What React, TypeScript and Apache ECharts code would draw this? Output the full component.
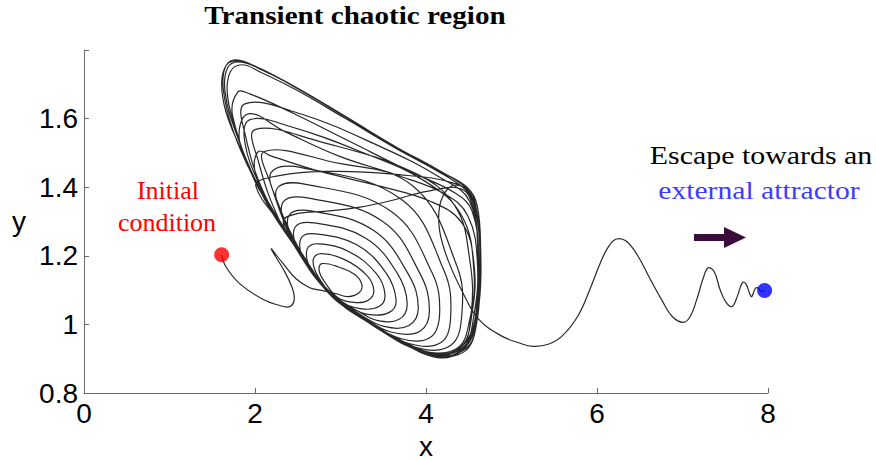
import React, { useEffect, useRef } from "react";
import * as echarts from "echarts";

// ---- data (x, y) ----
const xTicks = [0, 2, 4, 6, 8];
const yTicks = [0.8, 1, 1.2, 1.4, 1.6, 1.8];

const initialCondition = [1.61, 1.203];
const externalAttractor = [7.96, 1.099];

const transientPath = [
  [1.66, 1.168], [1.82, 1.119], [2.08, 1.075], [2.29, 1.055], [2.41, 1.052],
  [2.46, 1.075], [2.43, 1.11], [2.34, 1.157], [2.19, 1.22], [2.32, 1.18],
  [2.48, 1.133], [2.64, 1.107], [2.78, 1.099],
];

const innerLoops = [
  [[2.94, 1.09], [3.09, 1.081], [3.22, 1.093], [3.25, 1.116], [3.17, 1.145], [2.97, 1.168], [2.78, 1.177], [2.75, 1.157], [2.82, 1.122]],
  [[2.97, 1.078], [3.16, 1.064], [3.32, 1.07], [3.39, 1.099], [3.3, 1.145], [3.03, 1.191], [2.76, 1.206], [2.68, 1.188], [2.74, 1.139]],
  [[2.97, 1.072], [3.23, 1.046], [3.45, 1.052], [3.52, 1.087], [3.42, 1.148], [3.1, 1.212], [2.74, 1.235], [2.61, 1.22], [2.65, 1.162]],
  [[2.88, 1.093], [3.09, 1.055], [3.32, 1.029], [3.57, 1.035], [3.65, 1.072], [3.53, 1.151], [3.19, 1.232], [2.71, 1.264], [2.54, 1.252], [2.56, 1.194]],
  [[2.76, 1.125], [2.99, 1.07], [3.23, 1.035], [3.42, 1.012], [3.68, 1.014], [3.78, 1.061], [3.66, 1.151], [3.29, 1.252], [2.69, 1.296], [2.47, 1.284], [2.49, 1.223]],
  [[2.7, 1.142], [2.94, 1.081], [3.23, 1.029], [3.51, 0.994], [3.8, 0.997], [3.91, 1.049], [3.79, 1.148], [3.38, 1.275], [2.67, 1.33], [2.4, 1.319], [2.43, 1.249]],
  [[2.67, 1.154], [2.92, 1.081], [3.25, 1.023], [3.6, 0.977], [3.93, 0.98], [4.04, 1.041], [3.93, 1.148], [3.49, 1.301], [2.63, 1.368], [2.33, 1.357], [2.37, 1.278]],
  [[2.63, 1.168], [2.92, 1.078], [3.27, 1.017], [3.7, 0.959], [4.05, 0.962], [4.16, 1.035], [4.07, 1.151], [3.59, 1.33], [2.58, 1.409], [2.26, 1.397], [2.32, 1.319]],
  [[2.6, 1.183], [2.91, 1.078], [3.3, 1.014], [3.79, 0.945], [4.18, 0.948], [4.29, 1.032], [4.21, 1.157], [3.71, 1.365], [2.53, 1.458], [2.19, 1.443], [2.26, 1.359]],
];

const outerLoops = [
  [[2.53, 1.214], [2.88, 1.087], [3.33, 1.009], [3.88, 0.933], [4.29, 0.939], [4.42, 1.032], [4.36, 1.171], [3.85, 1.403], [2.88, 1.475], [2.11, 1.504], [2.18, 1.412]],
  [[2.48, 1.226], [2.88, 1.087], [3.39, 0.997], [3.98, 0.922], [4.4, 0.93], [4.53, 1.035], [4.51, 1.191], [4.34, 1.345], [3.87, 1.441], [2.76, 1.533], [2.0, 1.568], [2.04, 1.475]],
  [[2.29, 1.301], [2.53, 1.214], [2.88, 1.087], [3.46, 0.988], [4.05, 0.913], [4.47, 0.925], [4.6, 1.041], [4.61, 1.2], [4.51, 1.359], [4.16, 1.429], [3.46, 1.519], [2.53, 1.614], [1.88, 1.643], [1.89, 1.548]],
  [[2.12, 1.374], [2.47, 1.229], [2.84, 1.099], [3.37, 1.0], [3.99, 0.919], [4.42, 0.93], [4.56, 1.026], [4.6, 1.186], [4.49, 1.316], [4.22, 1.38], [3.7, 1.432], [2.99, 1.49], [2.35, 1.562], [1.92, 1.614], [1.82, 1.533]],
  [[2.08, 1.388], [2.47, 1.229], [2.84, 1.099], [3.31, 1.009], [3.7, 0.951], [4.12, 0.904], [4.39, 0.919], [4.55, 0.977], [4.63, 1.084], [4.64, 1.214], [4.6, 1.345], [4.49, 1.397], [4.16, 1.446], [3.7, 1.51], [3.11, 1.597], [2.53, 1.684], [2.08, 1.742], [1.82, 1.765], [1.68, 1.748], [1.65, 1.678], [1.78, 1.557]],
  [[2.07, 1.388], [2.46, 1.232], [2.84, 1.099], [3.32, 1.006], [3.72, 0.948], [4.14, 0.904], [4.41, 0.922], [4.57, 0.983], [4.63, 1.099], [4.63, 1.229], [4.57, 1.345], [4.47, 1.391], [4.12, 1.449], [3.65, 1.513], [3.06, 1.6], [2.48, 1.684], [2.06, 1.736], [1.85, 1.757], [1.71, 1.736], [1.68, 1.664], [1.8, 1.548]],
  [[2.0, 1.417], [2.23, 1.325], [2.84, 1.099], [3.35, 1.006], [4.05, 0.913], [4.46, 0.928], [4.6, 1.017], [4.62, 1.186], [4.54, 1.33], [4.34, 1.383], [3.81, 1.446], [3.11, 1.533], [2.41, 1.62], [1.94, 1.672], [1.8, 1.678], [1.74, 1.606]],
  [[2.08, 1.38], [2.47, 1.226], [2.85, 1.096], [3.32, 1.009], [3.73, 0.951], [4.13, 0.91], [4.37, 0.925], [4.54, 0.983], [4.6, 1.084], [4.61, 1.214], [4.56, 1.33], [4.42, 1.394], [4.01, 1.388], [3.61, 1.362], [3.23, 1.342], [2.84, 1.33], [2.48, 1.322], [2.33, 1.301]],
  [[2.48, 1.226], [2.85, 1.096], [3.33, 1.006], [3.74, 0.948], [4.14, 0.907], [4.4, 0.922], [4.56, 0.98], [4.62, 1.093], [4.63, 1.22], [4.56, 1.359], [4.36, 1.409], [3.61, 1.438], [2.84, 1.446], [2.18, 1.429], [2.01, 1.403]],
  [[2.35, 1.278], [2.84, 1.099], [3.4, 0.994], [3.99, 0.919], [4.4, 0.933], [4.54, 1.035], [4.56, 1.18], [4.42, 1.296], [4.05, 1.359], [3.46, 1.403], [2.76, 1.446], [2.2, 1.49], [2.04, 1.504], [2.0, 1.446]],
  [[2.2, 1.33], [2.48, 1.226], [2.85, 1.096], [3.32, 1.006], [3.71, 0.948], [4.12, 0.904], [4.39, 0.919], [4.55, 0.977], [4.62, 1.087], [4.63, 1.22], [4.58, 1.348], [4.48, 1.4], [4.14, 1.449], [3.67, 1.513], [3.09, 1.6], [2.5, 1.687], [2.07, 1.745], [1.8, 1.768], [1.66, 1.754], [1.63, 1.684], [1.74, 1.568], [1.96, 1.441]],
  [[2.41, 1.249], [2.84, 1.099], [3.37, 1.003], [3.93, 0.925], [4.36, 0.93], [4.51, 1.012], [4.56, 1.157], [4.42, 1.316], [3.99, 1.417], [3.23, 1.504], [2.41, 1.577], [1.94, 1.597], [1.88, 1.533], [2.06, 1.403]],
  [[2.35, 1.278], [2.64, 1.171], [2.85, 1.099], [3.31, 1.009], [3.72, 0.948], [4.13, 0.904], [4.4, 0.919], [4.56, 0.98], [4.62, 1.093], [4.63, 1.226], [4.57, 1.348], [4.47, 1.397], [4.13, 1.452], [3.66, 1.516], [3.08, 1.603], [2.49, 1.69], [2.04, 1.748], [1.78, 1.771], [1.66, 1.754], [1.61, 1.701], [1.66, 1.62], [1.82, 1.519], [2.08, 1.38]],
  [[2.48, 1.226], [2.85, 1.096], [3.35, 1.003], [3.75, 0.945], [4.15, 0.907], [4.41, 0.925], [4.56, 0.988], [4.61, 1.093], [4.61, 1.229], [4.56, 1.345], [4.48, 1.388], [4.37, 1.406], [4.25, 1.394], [4.16, 1.345], [4.16, 1.272], [4.26, 1.186], [4.43, 1.093], [4.61, 1.017]],
];

const escapePath = [
  [4.87, 0.968], [5.1, 0.945], [5.25, 0.936], [5.43, 0.942], [5.6, 0.968], [5.78, 1.026],
  [5.92, 1.104], [6.04, 1.18], [6.14, 1.229], [6.23, 1.249], [6.34, 1.243], [6.47, 1.203],
  [6.62, 1.133], [6.76, 1.07], [6.88, 1.023], [7.01, 1.006], [7.09, 1.023], [7.17, 1.075],
  [7.24, 1.133], [7.3, 1.165], [7.37, 1.154], [7.44, 1.101], [7.51, 1.064], [7.58, 1.052],
  [7.64, 1.081], [7.7, 1.122], [7.74, 1.119], [7.79, 1.087], [7.81, 1.081], [7.85, 1.104],
  [7.88, 1.107], [7.92, 1.096], [7.96, 1.099],
];

const SERIF = "'Liberation Serif', 'Times New Roman', serif";
const SANS = "'Liberation Sans', Arial, sans-serif";

export default function App() {
  const ref = useRef<HTMLDivElement>(null);

  useEffect(() => {
    if (!ref.current) return;
    const chart = echarts.init(ref.current, null, { renderer: "svg", width: 876, height: 460 });
    const trajectory = [
      initialCondition,
      ...transientPath,
      ...innerLoops.flat(),
      ...outerLoops.flat(),
      ...escapePath,
    ];
    const axisColor = "#6a6a6a";
    chart.setOption({
      animation: false,
      backgroundColor: "#ffffff",
      grid: { left: 84, right: 108, top: 50, bottom: 67, containLabel: false, outerBoundsMode: "none" },
      xAxis: {
        type: "value",
        min: xTicks[0],
        max: xTicks[xTicks.length - 1],
        interval: 2,
        name: "x",
        nameLocation: "middle",
        nameGap: 42,
        nameTextStyle: { fontFamily: SANS, fontSize: 28, lineHeight: 22, color: "#000" },
        axisLine: { show: true, lineStyle: { color: axisColor, width: 1 } },
        axisTick: { show: true, inside: true, length: 5, lineStyle: { color: axisColor } },
        axisLabel: { fontFamily: SANS, fontSize: 28, color: "#000", margin: 6, showMinLabel: true, showMaxLabel: true },
        splitLine: { show: false },
      },
      yAxis: {
        type: "value",
        min: yTicks[0],
        max: yTicks[yTicks.length - 1],
        interval: 0.2,
        name: "y",
        nameLocation: "middle",
        nameRotate: 0,
        nameGap: 58,
        nameTextStyle: { fontFamily: SANS, fontSize: 28, color: "#000" },
        axisLine: { show: true, lineStyle: { color: axisColor, width: 1 } },
        axisTick: { show: true, inside: true, length: 5, lineStyle: { color: axisColor } },
        axisLabel: {
          fontFamily: SANS,
          fontSize: 28,
          color: "#000",
          margin: 6,
          showMinLabel: true,
          showMaxLabel: true,
          formatter: (v: number) => (v > 1.75 ? "" : String(Math.round(v * 10) / 10)),
        },
        splitLine: { show: false },
      },
      series: [
        {
          type: "custom",
          name: "trajectory",
          coordinateSystem: "cartesian2d",
          data: trajectory,
          encode: { x: 0, y: 1 },
          silent: true,
          z: 2,
          renderItem: (params: any, api: any) => {
            if (params.dataIndex !== 0) return null;
            const pts = trajectory.map((p) => api.coord(p));
            return {
              type: "polyline",
              shape: { points: pts, smooth: 0.4 },
              style: { stroke: "#111111", lineWidth: 1.2, fill: null, opacity: 0.9 },
            };
          },
        },
        {
          type: "scatter",
          data: [initialCondition],
          symbolSize: 15,
          itemStyle: { color: "#ff0000" },
          silent: true,
          z: 3,
        },
        {
          type: "scatter",
          data: [externalAttractor],
          symbolSize: 15,
          itemStyle: { color: "#0000ff" },
          silent: true,
          z: 3,
        },
      ],
      graphic: [
        {
          type: "text",
          x: 355,
          y: 15,
          scaleX: 1.12,
          style: { text: "Transient chaotic region", fontFamily: SERIF, fontSize: 26, fontWeight: "bold", fill: "#000", align: "center", verticalAlign: "middle" },
        },
        {
          type: "text",
          x: 168,
          y: 190,
          style: { text: "Initial", fontFamily: SERIF, fontSize: 26, fill: "#ff0000", align: "center", verticalAlign: "middle" },
        },
        {
          type: "text",
          x: 167,
          y: 222,
          style: { text: "condition", fontFamily: SERIF, fontSize: 26, fill: "#ff0000", align: "center", verticalAlign: "middle" },
        },
        {
          type: "text",
          x: 761,
          y: 155,
          scaleX: 1.15,
          style: { text: "Escape towards an", fontFamily: SERIF, fontSize: 26, fill: "#000", align: "center", verticalAlign: "middle" },
        },
        {
          type: "text",
          x: 759,
          y: 190,
          scaleX: 1.14,
          style: { text: "external attractor", fontFamily: SERIF, fontSize: 26, fill: "#3c3cff", align: "center", verticalAlign: "middle" },
        },
        {
          type: "polygon",
          shape: { points: [[694, 234], [724, 234], [724, 227], [746, 237.5], [724, 248], [724, 241], [694, 241]] },
          style: { fill: "#3c0c3c" },
        },
      ],
    });
    return () => chart.dispose();
  }, []);

  return (
    <div
      ref={ref}
      style={{ position: "fixed", left: 0, top: 0, width: 876, height: 460, background: "#fff" }}
    />
  );
}
